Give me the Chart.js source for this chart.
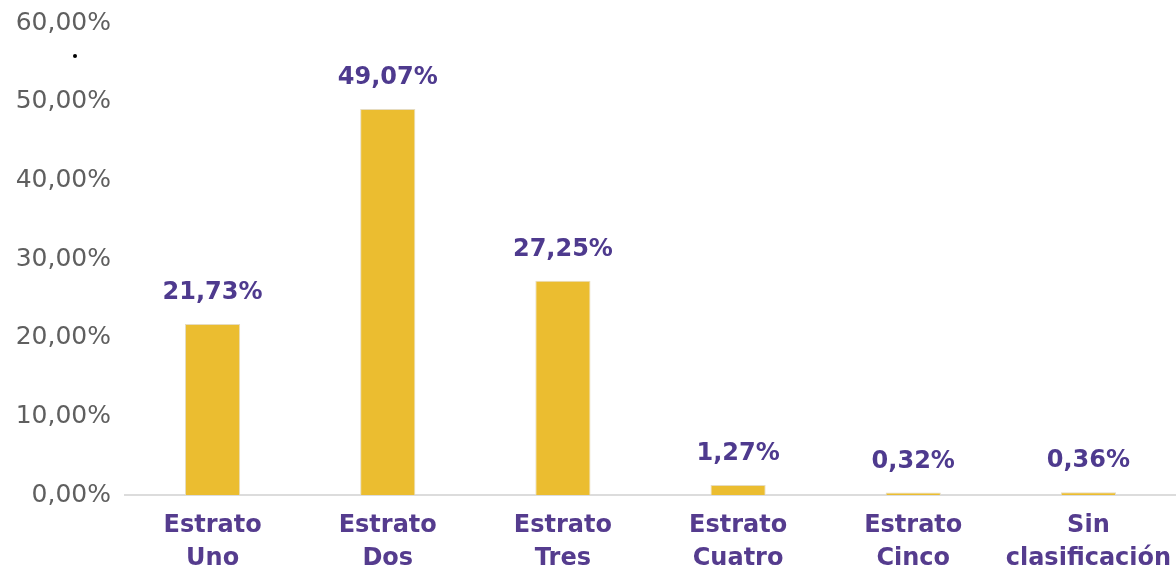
<!DOCTYPE html>
<html><head><meta charset="utf-8">
<script src="https://cdn.jsdelivr.net/npm/chart.js@4/dist/chart.umd.min.js"></script>
<style>
html,body{margin:0;padding:0;background:#fff;}
#wrap{position:relative;width:1176px;height:568px;}
#dot{position:absolute;left:73px;top:54px;width:4px;height:4px;border-radius:50%;background:#000;}
</style></head>
<body><div id="wrap"><canvas id="c" width="1176" height="568"></canvas><div id="dot"></div></div>
<script>
const categories = [["Estrato","Uno"],["Estrato","Dos"],["Estrato","Tres"],["Estrato","Cuatro"],["Estrato","Cinco"],["Sin","clasificación"]];
const values = [21.73, 49.07, 27.25, 1.27, 0.32, 0.36];
const yTicks = [0,10,20,30,40,50,60];

const fmt = v => v.toFixed(2).replace('.', ',') + '%';

const labelPlugin = {
  id:'vlabels',
  afterDatasetsDraw(chart){
    const ctx = chart.ctx;
    const meta = chart.getDatasetMeta(0);
    ctx.save();
    ctx.font = 'bold 24px "DejaVu Sans"';
    ctx.fillStyle = '#4E3A8E';
    ctx.textAlign = 'center';
    ctx.textBaseline = 'middle';
    meta.data.forEach((el,i)=>{
      ctx.fillText(fmt(values[i]), el.x, el.y - 31);
    });
    ctx.restore();
  }
};

new Chart(document.getElementById('c'), {
  type:'bar',
  data:{labels:categories, datasets:[{data:values, backgroundColor:'#EBBD30', borderColor:'#E6DCC0', borderWidth:1, barPercentage:0.315, categoryPercentage:1}]},
  options:{
    responsive:false, animation:false,
    layout:{padding:{top:23,right:0,left:0,bottom:0}},
    plugins:{legend:{display:false}, tooltip:{enabled:false}},
    scales:{
      y:{min:0,max:60,afterBuildTicks(s){s.ticks = yTicks.map(v=>({value:v}));},
         afterFit(s){s.width = 125;},
         grid:{display:false}, border:{display:false},
         ticks:{padding:6, color:'#5F5F5F', font:{family:'DejaVu Sans', size:25}, callback:v=>fmt(v)}},
      x:{grid:{display:false, drawTicks:false}, border:{display:true,color:'#DCDCDC',width:2},
         afterFit(s){s.height = 73; s.paddingLeft = 0; s.paddingRight = 0;},
         ticks:{padding:15, color:'#553C8E', font:{family:'DejaVu Sans', size:24, weight:'bold', lineHeight:1.35}}}
    }
  },
  plugins:[labelPlugin]
});
</script></body></html>
